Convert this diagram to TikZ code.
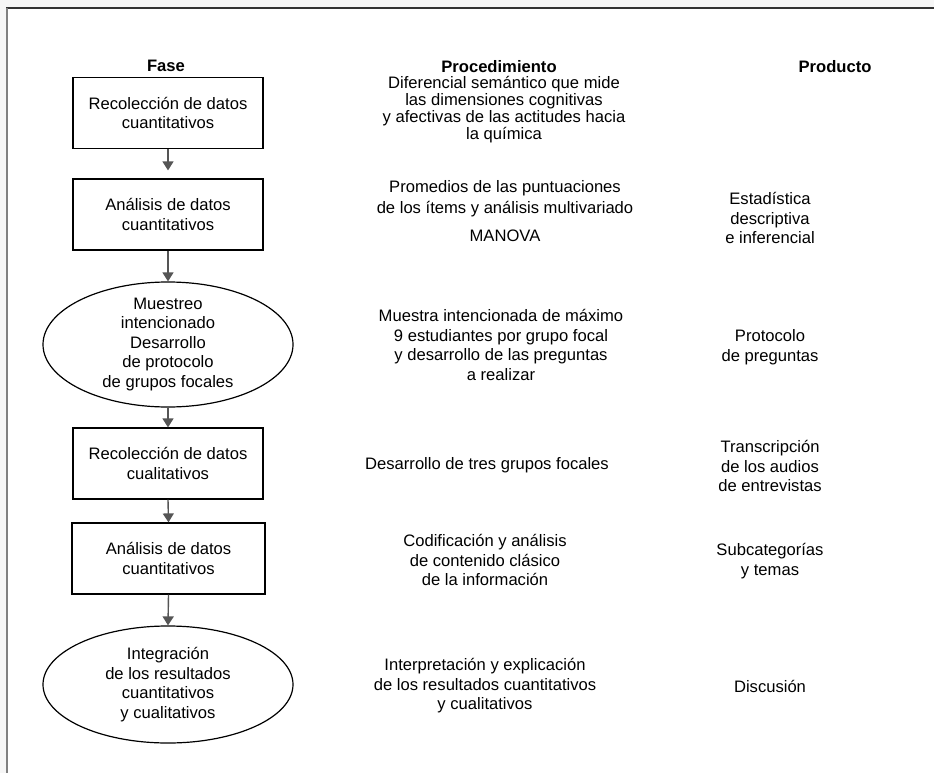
\documentclass[tikz,border=0pt]{standalone}
\usepackage{fontspec}
\setmainfont{Liberation Sans}
\usetikzlibrary{shapes.geometric,arrows.meta}
\definecolor{arrgray}{HTML}{555555}
\definecolor{framedark}{HTML}{333333}
\definecolor{frameleft}{HTML}{808080}
\newcommand\txtfont{\fontsize{16.6}{19.5}\selectfont}
\newcommand\tightfont{\fontsize{16.6}{17}\selectfont}
\newcommand\hdrfont{\fontsize{16.6}{19.5}\selectfont\bfseries}
\begin{document}
\begin{tikzpicture}[x=1pt,y=-1pt,
  box/.style={draw=black, line width=1.2pt, minimum width=190pt, minimum height=71pt, inner sep=0pt, align=center, font=\txtfont},
  ell/.style={draw=black, ellipse, line width=1.2pt, inner sep=0pt},
  txt/.style={align=center, inner sep=0pt, font=\txtfont},
  tight/.style={align=center, inner sep=0pt, font=\tightfont},
  hdr/.style={inner sep=0pt, font=\hdrfont},
  arr/.style={draw=arrgray, line width=1.4pt, -{Triangle[width=11pt,length=9pt]}}]
\useasboundingbox (0,0) rectangle (934,773);
\fill[white] (0,0) rectangle (934,773);
\fill[gray!7] (0,0) rectangle (934,8);
\fill[gray!7] (0,0) rectangle (6,773);
\draw[framedark, line width=1.5pt] (6,8) -- (934,8);
\draw[frameleft, line width=2pt] (6.5,8) -- (6.5,773);

% headers
\node[hdr] (hfase) at (166,66) {Fase};
\node[hdr] (hproc) at (499,67) {Procedimiento};
\node[hdr] (hprod) at (835,67) {Producto};

% left column
\node[box] (b1) at (168,113) {Recolección de datos\\cuantitativos};
\node[box] (b2) at (168,214.5) {Análisis de datos\\cuantitativos};
\node[ell, minimum width=250pt, minimum height=125pt] (e1) at (168,344.5) {};
\node[txt] (e1t) at (e1.center) {Muestreo\\intencionado\\Desarrollo\\de protocolo\\de grupos focales};
\node[box] (b3) at (168,463.5) {Recolección de datos\\cualitativos};
\node[box, minimum width=193pt] (b4) at (168.5,558.5) {Análisis de datos\\cuantitativos};
\node[ell, minimum width=250pt, minimum height=117pt] (e2) at (168,684.5) {};
\node[txt] (e2t) at (e2.center) {Integración\\de los resultados\\cuantitativos\\y cualitativos};

% arrows
\draw[arr, shorten >=8pt] (b1.south) -- (b2.north);
\draw[arr] (b2.south) -- (e1.north);
\draw[arr] (e1.south) -- (b3.north);
\draw[arr] (b3.south) -- (b4.north);
\draw[arr] (b4.south) -- (e2.north);

% middle column
\node[tight] (p1) at (504,110) {Diferencial semántico que mide\\las dimensiones cognitivas\\y afectivas de las actitudes hacia\\la química};
\node[txt, font=\fontsize{16.6}{21}\selectfont] (p2) at (505,198.5) {Promedios de las puntuaciones\\de los ítems y análisis multivariado};
\node[txt] (p2b) at (505,236) {MANOVA};
\node[txt] (p3) at (501,345) {Muestra intencionada de máximo\\9 estudiantes por grupo focal\\y desarrollo de las preguntas\\a realizar};
\node[txt] (p4) at (487,465) {Desarrollo de tres grupos focales};
\node[txt] (p5) at (485,560) {Codificación y análisis\\de contenido clásico\\de la información};
\node[txt] (p6) at (485,686) {Interpretación y explicación\\de los resultados cuantitativos\\y cualitativos};

% right column
\node[txt] (r2) at (770,218) {Estadística\\descriptiva\\e inferencial};
\node[txt] (r3) at (770,347) {Protocolo\\de preguntas};
\node[txt] (r4) at (770,466) {Transcripción\\de los audios\\de entrevistas};
\node[txt] (r5) at (770,561) {Subcategorías\\y temas};
\node[txt] (r6) at (770,686) {Discusión};
\end{tikzpicture}
\end{document}
